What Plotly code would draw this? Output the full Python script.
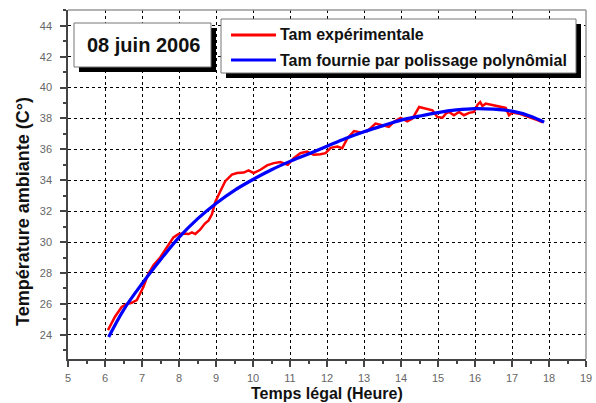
import plotly.graph_objects as go

# Measured ambient temperature, 8 June 2006 (legal time in hours)
time_exp = [6.08, 6.27, 6.45, 6.59, 6.72, 6.86, 6.95, 7.04, 7.17, 7.31, 7.49, 7.67,
            7.85, 7.99, 8.12, 8.26, 8.35, 8.44, 8.57, 8.70, 8.80, 8.89, 8.98, 9.12,
            9.25, 9.43, 9.57, 9.75, 9.88, 10.02, 10.20, 10.38, 10.56, 10.74, 10.94,
            11.10, 11.28, 11.46, 11.64, 11.82, 11.96, 12.10, 12.28, 12.41, 12.55,
            12.73, 12.91, 13.09, 13.31, 13.49, 13.67, 13.81, 13.99, 14.17, 14.31,
            14.49, 14.67, 14.85, 14.98, 15.12, 15.21, 15.30, 15.43, 15.57, 15.70,
            15.84, 15.97, 16.07, 16.14, 16.20, 16.29, 16.43, 16.56, 16.69, 16.83,
            16.92, 17.01, 17.19, 17.37, 17.56, 17.74, 17.83]
temp_exp = [24.30, 25.17, 25.80, 25.99, 26.07, 26.24, 26.67, 27.10, 27.95, 28.50,
            29.00, 29.66, 30.30, 30.52, 30.56, 30.52, 30.62, 30.52, 30.80, 31.20,
            31.40, 31.80, 32.60, 33.30, 33.94, 34.37, 34.47, 34.50, 34.64, 34.47,
            34.68, 34.96, 35.11, 35.18, 35.00, 35.43, 35.75, 35.86, 35.65, 35.68,
            35.75, 36.10, 36.18, 36.07, 36.71, 37.18, 37.10, 37.18, 37.67, 37.57,
            37.46, 37.78, 38.04, 37.82, 37.99, 38.74, 38.63, 38.53, 38.10, 38.05,
            38.31, 38.42, 38.21, 38.42, 38.21, 38.36, 38.42, 38.89, 39.06, 38.81,
            38.96, 38.89, 38.85, 38.74, 38.68, 38.21, 38.38, 38.31, 38.17, 37.99,
            37.85, 37.74]

# Polynomial smoothing of the same series
time_fit = [6.1, 6.5, 7.0, 7.5, 8.0, 8.5, 9.0, 9.5, 10.0, 10.5, 11.0, 11.5, 12.0,
            12.5, 13.0, 13.5, 14.0, 14.5, 15.0, 15.5, 16.0, 16.5, 17.0, 17.5, 17.87]
temp_fit = [23.85, 25.6, 27.3, 28.85, 30.3, 31.5, 32.5, 33.35, 34.05, 34.68, 35.22,
            35.7, 36.2, 36.7, 37.14, 37.52, 37.89, 38.15, 38.38, 38.55, 38.64,
            38.6, 38.47, 38.15, 37.76]

x_ticks = list(range(5, 20))
y_ticks = list(range(24, 46, 2))

label_exp = "Tam expérimentale"
label_fit = "Tam fournie par polissage polynômial"
date_label = "08 juin 2006"
x_title = "Temps légal (Heure)"
y_title = "Température ambiante (C°)"

W, H = 596, 403
L, R, T, B = 68, 10, 10, 44
PW, PH = W - L - R, H - T - B
FONT = "Arial, Liberation Sans, sans-serif"


def px(x):
    return (x - L) / PW


def py(y):
    return (H - B - y) / PH


fig = go.Figure()
fig.add_trace(go.Scatter(x=time_exp, y=temp_exp, mode="lines",
                         line=dict(color="#ff0000", width=2.5),
                         name=label_exp, showlegend=False))
fig.add_trace(go.Scatter(x=time_fit, y=temp_fit, mode="lines",
                         line=dict(color="#0000ff", width=3.2, shape="spline"),
                         name=label_fit, showlegend=False))

axis_common = dict(
    showgrid=True, gridcolor="#000", griddash="dot", gridwidth=1,
    showline=True, linecolor="#444", linewidth=1.5,
    ticks="outside", ticklen=6, tickcolor="#444", tickwidth=1.5,
    tickfont=dict(family=FONT, size=11, color="#666"),
    zeroline=False, automargin=False,
)
fig.update_xaxes(range=[5, 19], tickvals=x_ticks, ticklabelstandoff=2,
                 minor=dict(tick0=0, dtick=0.5, ticks="outside", ticklen=3,
                            tickcolor="#444", showgrid=False),
                 **axis_common)
fig.update_yaxes(range=[22.43, 45.02], tickvals=y_ticks, ticklabelstandoff=6,
                 minor=dict(tick0=0, dtick=1, ticks="outside", ticklen=3,
                            tickcolor="#444", showgrid=False),
                 **axis_common)

shapes = [
    # light frame on the top and right of the plotting area
    dict(type="line", xref="paper", yref="paper", x0=0, x1=1, y0=1, y1=1,
         line=dict(color="#999", width=1.5)),
    dict(type="line", xref="paper", yref="paper", x0=1, x1=1, y0=0, y1=1,
         line=dict(color="#999", width=1.5)),
    # date box with drop shadow
    dict(type="rect", xref="paper", yref="paper", x0=px(79), x1=px(216),
         y0=py(72), y1=py(28), fillcolor="#000", line=dict(width=0)),
    dict(type="rect", xref="paper", yref="paper", x0=px(74), x1=px(211),
         y0=py(67), y1=py(23), fillcolor="#fff", line=dict(color="#777", width=1)),
    # legend box with drop shadow
    dict(type="rect", xref="paper", yref="paper", x0=px(226), x1=px(581),
         y0=py(78), y1=py(24), fillcolor="#000", line=dict(width=0)),
    dict(type="rect", xref="paper", yref="paper", x0=px(221), x1=px(576),
         y0=py(73), y1=py(19), fillcolor="#fff", line=dict(color="#777", width=1)),
    # legend samples
    dict(type="line", xref="paper", yref="paper", x0=px(231), x1=px(276),
         y0=py(35), y1=py(35), line=dict(color="#ff0000", width=3)),
    dict(type="line", xref="paper", yref="paper", x0=px(231), x1=px(276),
         y0=py(60), y1=py(60), line=dict(color="#0000ff", width=3)),
]

annotations = [
    dict(text=f"<b>{date_label}</b>", xref="paper", yref="paper",
         x=px(143), y=py(45), xanchor="center", yanchor="middle", showarrow=False,
         font=dict(family=FONT, size=20, color="#111")),
    dict(text=f"<b>{label_exp}</b>", xref="paper", yref="paper",
         x=px(278), y=py(35), xanchor="left", yanchor="middle", showarrow=False,
         font=dict(family=FONT, size=16, color="#111")),
    dict(text=f"<b>{label_fit}</b>", xref="paper", yref="paper",
         x=px(278), y=py(60), xanchor="left", yanchor="middle", showarrow=False,
         font=dict(family=FONT, size=16, color="#111")),
    dict(text=f"<b>{x_title}</b>", xref="paper", yref="paper", borderpad=0,
         x=px(327), y=py(403), xanchor="center", yanchor="bottom", showarrow=False,
         font=dict(family=FONT, size=16, color="#111")),
    dict(text=f"<b>{y_title}</b>", xref="paper", yref="paper", textangle=-90,
         x=px(23), y=py(212), xanchor="center", yanchor="middle", showarrow=False,
         font=dict(family=FONT, size=18, color="#111")),
]

fig.update_layout(
    width=W, height=H,
    margin=dict(l=L, r=R, t=T, b=B, pad=0),
    paper_bgcolor="#fff", plot_bgcolor="#fff",
    shapes=shapes, annotations=annotations,
    showlegend=False,
)

fig.write_html("out.html")
